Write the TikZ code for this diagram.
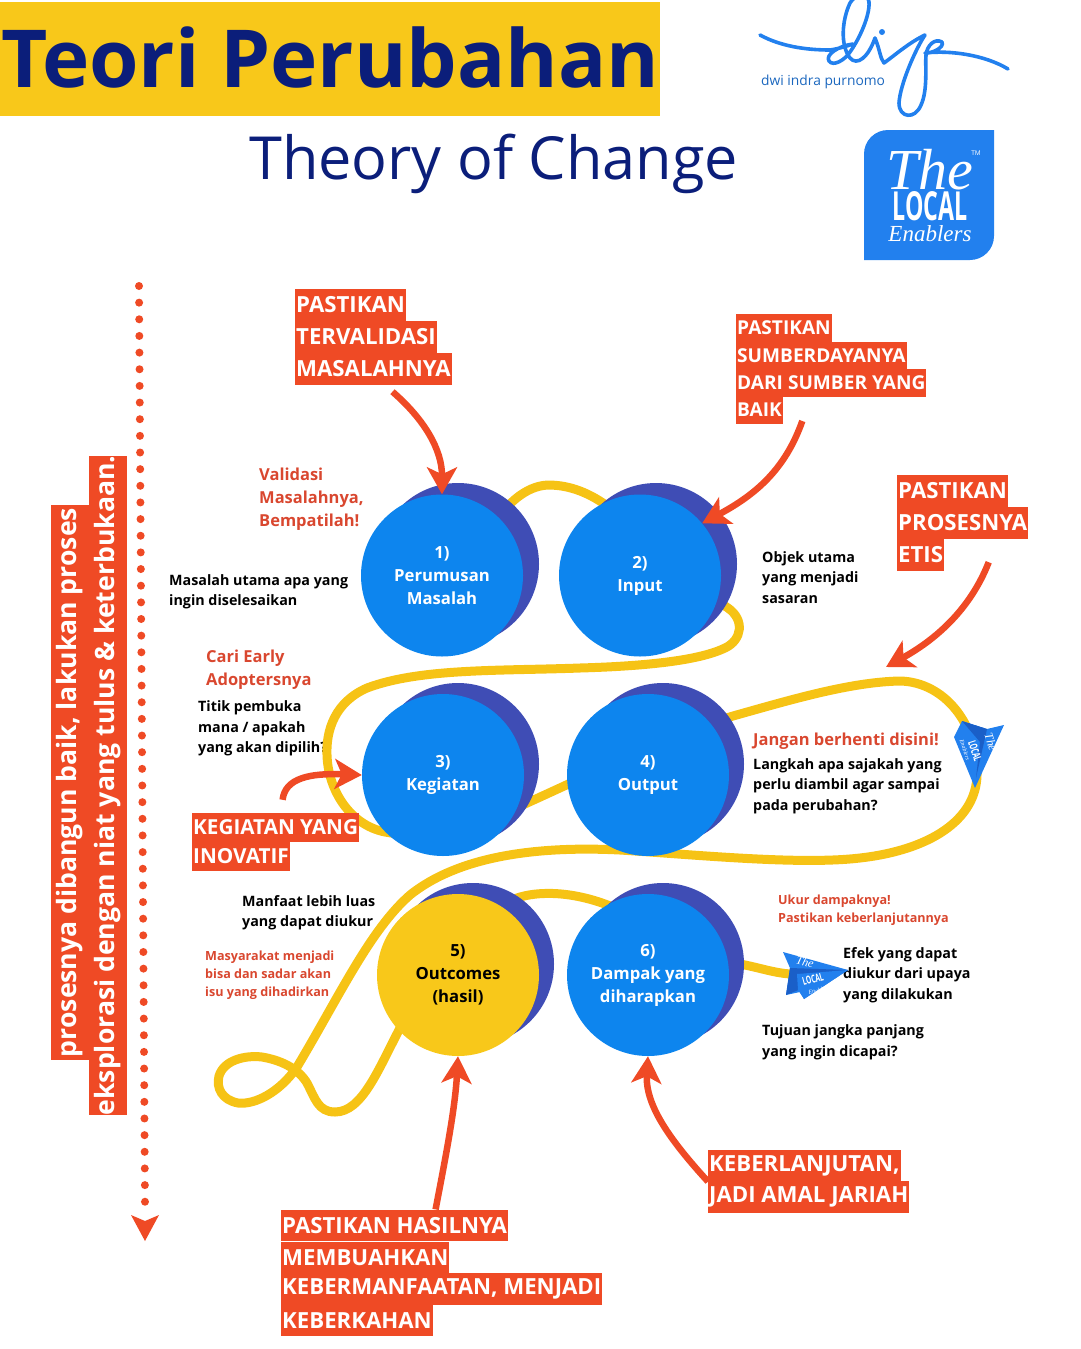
\documentclass[tikz,border=0pt]{standalone}
\usepackage{fontspec}
\setmainfont{Open Sans}
\newfontfamily\scriptf{Liberation Serif}
\usetikzlibrary{arrows.meta}
\definecolor{navy}{HTML}{0B1E7A}
\definecolor{ttlyel}{HTML}{F8C81A}
\definecolor{rib}{HTML}{F6C315}
\definecolor{cblue}{HTML}{0D85EE}
\definecolor{cback}{HTML}{3F4DB5}
\definecolor{hlred}{HTML}{EF4A25}
\definecolor{lblred}{HTML}{D9472F}
\definecolor{logob}{HTML}{2280EE}
\definecolor{planed}{HTML}{1A5FC8}
\newcommand{\fs}[2]{\fontsize{#1}{#2}\selectfont}
\tikzset{
 hlbase/.style={fill=hlred,text=white,anchor=west,inner xsep=1pt,inner ysep=0pt},
 hlA/.style={hlbase,font=\fs{22.2}{28}\bfseries,minimum height=32pt},
 hlB/.style={hlbase,font=\fs{19.1}{24}\bfseries,minimum height=27.6pt},
 hlC/.style={hlbase,font=\fs{22.2}{27}\bfseries,minimum height=31.8pt},
 hlD/.style={hlbase,font=\fs{20.7}{26}\bfseries,minimum height=29pt},
 hlV/.style={fill=hlred,text=white,font=\fs{26.6}{32}\bfseries,rotate=90,inner sep=0pt,minimum height=38pt},
 blk/.style={anchor=west,align=left,font=\fs{14.3}{20.5}\bfseries,text=black,inner sep=0pt},
 redL/.style={anchor=west,align=left,font=\fs{16.5}{23}\bfseries,text=lblred,inner sep=0pt},
 redS/.style={anchor=west,align=left,font=\fs{12.6}{18.2}\bfseries,text=lblred,inner sep=0pt},
 front/.style={circle,fill=cblue,minimum size=162pt,inner sep=0pt,align=center,text=white,font=\fs{16.7}{23}\bfseries},
 backc/.style={circle,fill=cback,minimum size=162pt,inner sep=0pt},
 redarrow/.style={draw=hlred,line width=6.5pt,-{Stealth[length=27pt,width=30pt,inset=7pt]}},
 ribbon/.style={draw=rib,line width=9pt,line cap=round},
 planet/.style={text=white,inner sep=0pt},
}
\begin{document}
\begin{tikzpicture}[x=1pt,y=-1pt]
\useasboundingbox (0,0) rectangle (1080,1349);
% title
\node[fill=ttlyel,anchor=north west,minimum width=660pt,minimum height=114pt,inner sep=0pt] (ttlbox) at (0,2) {};
\node[anchor=base west,inner sep=0pt,text=navy,font=\fs{80}{90}\bfseries] (ttl) at (1,87) {Teori Perubahan};
\node[anchor=base west,inner sep=0pt,text=navy,font=\fs{59.4}{66}] (sub) at (249,179) {Theory of Change};
% signature logo
\begin{scope}
\clip (740,0) rectangle (1040,130);
\draw[logob,line width=3.6pt,line cap=round,line join=round]
 (760,35) .. controls (780,46) and (805,50) .. (830,50)
 .. controls (838,49) and (850,45) .. (853,44)
 .. controls (838,46) and (825,55) .. (829,61)
 .. controls (833,67) and (845,60) .. (850,52)
 .. controls (860,38) and (870,15) .. (869,2)
 .. controls (868,-8) and (855,-6) .. (850,3)
 .. controls (842,20) and (840,45) .. (850,58)
 .. controls (857,66) and (868,58) .. (875,38)
 .. controls (880,50) and (880,58) .. (884,63)
 .. controls (895,55) and (910,42) .. (925,35)
 .. controls (915,50) and (900,85) .. (899,103)
 .. controls (899,118) and (915,120) .. (921,105)
 .. controls (928,90) and (925,65) .. (926,55)
 .. controls (927,45) and (935,38) .. (942,42)
 .. controls (945,48) and (930,54) .. (925,53)
 .. controls (950,50) and (985,55) .. (1008,69);
\fill[logob] (882,32) circle (3pt);
\end{scope}
\node[anchor=west,inner sep=0pt,text=logob!80!black,font=\fs{13.8}{15}] (dwi) at (761,82) {dwi indra purnomo};
\fill[logob] (864,260) [rounded corners=24pt] -- (864,130) [sharp corners] -- (994,130) [rounded corners=24pt] -- (994,260) [sharp corners] -- cycle;
\node[planet,font=\scriptf\fs{58}{60}\itshape] (lthe) at (930,170) {The};
\node[planet,font=\fs{6.5}{7}] (ltm) at (976,153) {TM};
\node[planet,font=\fs{40}{42}\bfseries] (lloc) at (930,206) {\scalebox{.58}[1]{LOCAL}};
\node[planet,font=\scriptf\fs{23}{24}\itshape] (lena) at (930,234) {Enablers};
% dotted line
\coordinate (dtop) at (139,286);
\coordinate (dbot) at (145,1203);
\draw[hlred,line width=8pt,line cap=round,dash pattern=on 0pt off 16.65pt] (dtop) -- (dbot);
\fill[hlred] (131,1215) -- (145,1221) -- (159,1215) -- (145,1241) -- cycle;
% vertical highlighted text
\node[hlV,minimum width=555pt] (v1) at (70,782.5) {prosesnya dibangun baik, lakukan proses};
\node[hlV,minimum width=659pt] (v2) at (108,785.5) {eksplorasi dengan niat yang tulus \& keterbukaan.};
% side texts
\node[redL] (t1) at (259,499.5) {Validasi\\Masalahnya,\\Bempatilah!};
\node[blk] (t2) at (169,592) {Masalah utama apa yang\\ingin diselesaikan};
\node[blk] (t3) at (762,577.5) {Objek utama\\yang menjadi\\sasaran};
\node[redL] (t4) at (206,670) {Cari Early\\Adoptersnya};
\node[blk] (t5) at (198,728.5) {Titik pembuka\\mana / apakah\\yang akan dipilih?};
\node[redL] (t6) at (753,741.5) {Jangan berhenti disini!};
\node[blk] (t7) at (753,786) {Langkah apa sajakah yang\\perlu diambil agar sampai\\pada perubahan?};
\node[blk] (t8) at (242,912.5) {Manfaat lebih luas\\yang dapat diukur};
\node[redS] (t9) at (205,975) {Masyarakat menjadi\\bisa dan sadar akan\\isu yang dihadirkan};
\node[redS] (t10) at (778,910.5) {Ukur dampaknya!\\Pastikan keberlanjutannya};
\node[blk] (t11) at (843,975) {Efek yang dapat\\diukur dari upaya\\yang dilakukan};
\node[blk] (t12) at (762,1042.5) {Tujuan jangka panjang\\yang ingin dicapai?};
% ribbon
\draw[ribbon] (490,530)
 .. controls (505,505) and (525,486) .. (548,485)
 .. controls (570,485) and (590,493) .. (610,508)
 .. controls (650,540) and (700,590) .. (728,608)
 .. controls (745,620) and (742,640) .. (725,648)
 .. controls (700,660) and (650,666) .. (580,668)
 .. controls (500,671) and (420,668) .. (367,688)
 .. controls (335,702) and (326,730) .. (327,755)
 .. controls (328,790) and (350,825) .. (385,832)
 .. controls (440,842) and (490,820) .. (527,803)
 .. controls (600,770) and (670,735) .. (733,716)
 .. controls (790,700) and (850,682) .. (900,681)
 .. controls (945,682) and (978,725) .. (977,775)
 .. controls (976,820) and (930,850) .. (860,858)
 .. controls (800,865) and (700,855) .. (620,850)
 .. controls (540,846) and (460,855) .. (410,895)
 .. controls (370,930) and (340,995) .. (297,1067)
 .. controls (280,1092) and (255,1105) .. (238,1103)
 .. controls (222,1100) and (216,1088) .. (219,1076)
 .. controls (224,1060) and (245,1055) .. (262,1057)
 .. controls (280,1060) and (298,1068) .. (307,1083)
 .. controls (315,1098) and (318,1112) .. (335,1112)
 .. controls (362,1112) and (378,1070) .. (400,1028)
 .. controls (420,990) and (450,920) .. (520,897)
 .. controls (545,890) and (580,893) .. (615,908)
 .. controls (660,930) and (700,955) .. (745,965)
 .. controls (760,968) and (775,973) .. (790,974);
% circles
\node[backc] (b1) at (458,564) {};
\node[backc] (b2) at (656,564) {};
\node[backc] (b3) at (458,764) {};
\node[backc] (b4) at (663,764) {};
\node[backc] (b5) at (473,964) {};
\node[backc] (b6) at (663,964) {};
\node[front] (c1) at (442,575.5) {1)\\Perumusan\\Masalah};
\node[front] (c2) at (640,575.5) {2)\\Input};
\node[front] (c3) at (443,775) {3)\\Kegiatan};
\node[front] (c4) at (648,775) {4)\\Output};
\node[front,fill=ttlyel,text=black] (c5) at (458,975) {5)\\Outcomes\\(hasil)};
\node[front] (c6) at (648,975) {6)\\Dampak yang\\diharapkan};
% right plane
\fill[logob] (962,721) -- (987,729) -- (1004,725) -- (975,788) -- (954,737) -- cycle;
\fill[planed] (962,721) -- (987,729) -- (976,778) -- (980,742) -- cycle;
\node[planet,rotate=-72,font=\scriptf\fs{12}{13}\itshape] (pthe) at (991,742) {The};
\node[planet,rotate=-72,font=\fs{11}{12}\bfseries] (ploc) at (975,751) {\scalebox{.6}[1]{LOCAL}};
\node[planet,rotate=-72,font=\scriptf\fs{6}{7}\itshape] (pena) at (965,750) {Enablers};
% lower plane
\fill[logob] (783,952) -- (848,970) -- (804,999) -- (800,992) -- (786,995) -- (790,968) -- cycle;
\fill[planed] (790,968) -- (848,970) -- (786,995) -- cycle;
\fill[logob] (797,974) -- (848,970) -- (804,999) -- (798,990) -- cycle;
\node[planet,rotate=-15,font=\scriptf\fs{12}{13}\itshape] (qthe) at (805,962) {The};
\node[planet,rotate=15,font=\fs{11}{12}\bfseries] (qloc) at (813,979) {\scalebox{.6}[1]{LOCAL}};
\node[planet,rotate=15,font=\scriptf\fs{6}{7}\itshape] (qena) at (819,990) {Enablers};
% highlighted callouts
\node[hlA] (h11) at (295,305) {PASTIKAN};
\node[hlA] (h12) at (295,337) {TERVALIDASI};
\node[hlA] (h13) at (295,368.5) {MASALAHNYA};
\node[hlB] (h21) at (736,328) {PASTIKAN};
\node[hlB] (h22) at (736,355.5) {SUMBERDAYANYA};
\node[hlB] (h23) at (736,383) {DARI SUMBER YANG};
\node[hlB] (h24) at (736,410) {BAIK};
\node[hlA] (h31) at (897,491) {PASTIKAN};
\node[hlA] (h32) at (897,523) {PROSESNYA};
\node[hlA] (h33) at (897,555) {ETIS};
\node[hlD] (h41) at (192,827.5) {KEGIATAN YANG};
\node[hlD] (h42) at (192,856.5) {INOVATIF};
\node[hlC] (h51) at (281,1225.5) {PASTIKAN HASILNYA};
\node[hlC] (h52) at (281,1257.5) {MEMBUAHKAN};
\node[hlC] (h53) at (281,1289) {KEBERMANFAATAN, MENJADI};
\node[hlC] (h54) at (281,1320.5) {KEBERKAHAN};
\node[hlC] (h61) at (708,1165.5) {KEBERLANJUTAN,};
\node[hlC] (h62) at (708,1197) {JADI AMAL JARIAH};
% arrows
\coordinate (r3) at (886,667);
\draw[redarrow] ([xshift=19pt,yshift=-7pt]h13.south) .. controls (425,420) and (442,450) .. (c1.north);
\draw[redarrow] ([xshift=-29pt,yshift=-24pt]h23.south) .. controls (785,470) and (755,495) .. (c2.40);
\draw[redarrow] ([xshift=26pt,yshift=-23pt]h32.south) .. controls (970,610) and (935,640) .. (r3);
\draw[redarrow] ([xshift=7pt,yshift=13pt]h41.north) .. controls (285,778) and (310,773) .. (c3.west);
\draw[redarrow] ([xshift=41pt]h51.north) .. controls (445,1160) and (455,1110) .. (c5.south);
\draw[redarrow] (h61.south west) .. controls (670,1140) and (645,1105) .. (c6.south);
\end{tikzpicture}
\end{document}
